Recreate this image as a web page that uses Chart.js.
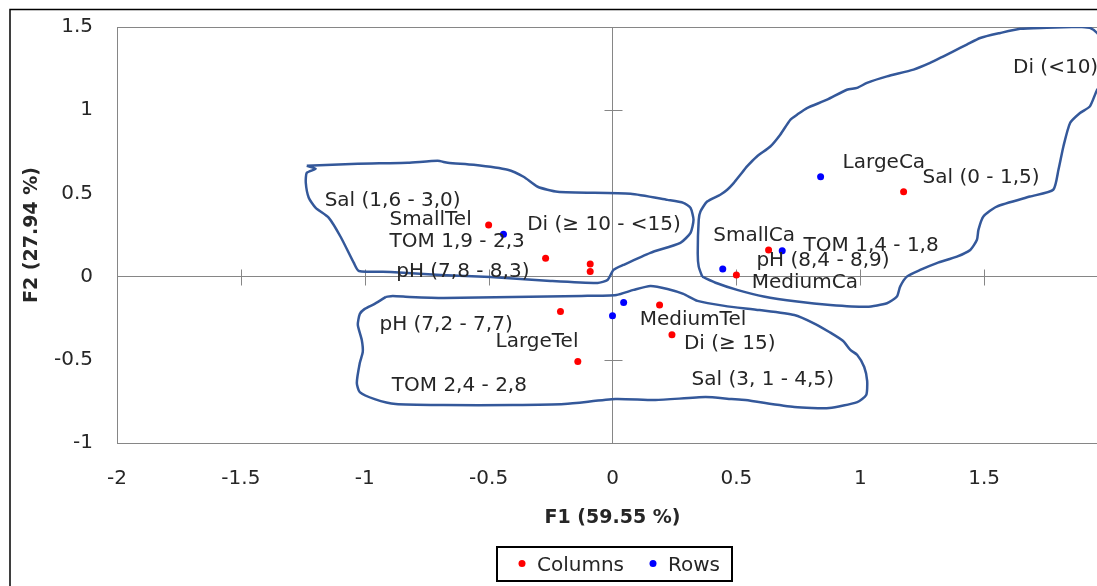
<!DOCTYPE html>
<html><head><meta charset="utf-8">
<script src="https://cdn.jsdelivr.net/npm/chart.js@4.4.1/dist/chart.umd.min.js"></script>
<style>
html,body{margin:0;padding:0;background:#fff;overflow:hidden;}
#wrap{position:relative;width:1120px;height:586px;}
</style></head><body>
<div id="wrap"><canvas id="c" width="1120" height="586"></canvas></div>
<script>
// ---- tick labels ----
const xTicks = [-2, -1.5, -1, -0.5, 0, 0.5, 1, 1.5, 2];
const xTickLabels = ['-2', '-1.5', '-1', '-0.5', '0', '0.5', '1', '1.5', '2'];
const yTicks = [-1, -0.5, 0, 0.5, 1, 1.5];
const yTickLabels = ['-1', '-0.5', '0', '0.5', '1', '1.5'];

// ---- series: Columns (red) ----
const columnLabels = ['Sal (1,6 - 3,0)', 'TOM 1,9 - 2,3', 'pH (7,8 - 8,3)', 'Di (≥ 10 - <15)',
  'pH (7,2 - 7,7)', 'TOM 2,4 - 2,8', 'Di (≥ 15)', 'Sal (3, 1 - 4,5)',
  'Sal (0 - 1,5)', 'TOM 1,4 - 1,8', 'pH (8,4 - 8,9)', 'Di (<10)'];
const columnF1 = [-0.50, -0.27, -0.09, -0.09, -0.21, -0.14, 0.24, 0.19, 1.175, 0.63, 0.50, 1.98];
const columnF2 = [0.31, 0.11, 0.03, 0.075, -0.21, -0.51, -0.35, -0.17, 0.51, 0.16, 0.01, 1.28];

// ---- series: Rows (blue) ----
const rowLabels = ['SmallTel', 'MediumTel', 'LargeTel', 'SmallCa', 'MediumCa', 'LargeCa'];
const rowF1 = [-0.44, 0.045, 0.0, 0.685, 0.445, 0.84];
const rowF2 = [0.255, -0.155, -0.235, 0.155, 0.045, 0.60];

// ---- hand-drawn group outlines (F1, F2) ----
const outlineUpperLeft = [[-1.234,0.666],[-1.198,0.648],[-1.234,0.624],[-1.238,0.564],[-1.226,0.474],[-1.198,0.413],
  [-1.145,0.353],[-1.097,0.238],[-1.044,0.082],[-1.024,0.034],[-0.895,0.028],[-0.694,0.010],[-0.492,-0.002],
  [-0.25,-0.026],[-0.06,-0.038],[-0.02,-0.020],[0.004,0.040],[0.044,0.070],[0.153,0.143],[0.274,0.203],
  [0.315,0.263],[0.327,0.341],[0.315,0.413],[0.286,0.443],[0.222,0.461],[0.073,0.498],[-0.222,0.51],
  [-0.302,0.54],[-0.359,0.6],[-0.423,0.642],[-0.56,0.672],[-0.665,0.684],[-0.706,0.696],[-0.827,0.684],
  [-1.028,0.678],[-1.234,0.666]];
const outlineLower = [[-0.915,-0.122],[-0.96,-0.164],[-1.0,-0.194],[-1.02,-0.225],[-1.028,-0.29],[-1.012,-0.381],
  [-1.008,-0.453],[-1.02,-0.519],[-1.032,-0.639],[-1.02,-0.694],[-0.96,-0.736],[-0.875,-0.766],[-0.681,-0.772],
  [-0.403,-0.772],[-0.194,-0.766],[0.012,-0.736],[0.173,-0.742],[0.375,-0.724],[0.48,-0.736],[0.536,-0.742],
  [0.734,-0.784],[0.875,-0.79],[0.988,-0.754],[1.024,-0.712],[1.028,-0.628],[1.016,-0.543],[0.988,-0.471],
  [0.96,-0.441],[0.931,-0.387],[0.875,-0.333],[0.819,-0.285],[0.734,-0.231],[0.593,-0.201],[0.452,-0.176],
  [0.343,-0.146],[0.286,-0.104],[0.222,-0.074],[0.153,-0.056],[0.085,-0.08],[0.016,-0.11],[-0.125,-0.116],
  [-0.403,-0.122],[-0.681,-0.128],[-0.819,-0.122],[-0.887,-0.116],[-0.915,-0.122]];
const outlineRight = [[0.362,0.0],[0.348,0.06],[0.344,0.141],[0.348,0.341],[0.355,0.391],[0.382,0.451],[0.435,0.492],
  [0.463,0.522],[0.489,0.562],[0.516,0.612],[0.543,0.662],[0.583,0.722],[0.637,0.782],[0.677,0.853],[0.718,0.943],
  [0.745,0.973],[0.785,1.013],[0.866,1.063],[0.946,1.123],[0.987,1.134],[1.027,1.164],[1.108,1.203],[1.215,1.244],
  [1.282,1.284],[1.336,1.324],[1.376,1.354],[1.43,1.394],[1.484,1.434],[1.565,1.464],[1.645,1.489],[1.753,1.495],
  [1.887,1.501],[1.927,1.495],[1.956,1.464],[1.975,1.42],[1.985,1.3],[1.975,1.16],[1.956,1.123],[1.927,1.023],
  [1.887,0.983],[1.847,0.923],[1.82,0.782],[1.8,0.642],[1.779,0.522],[1.685,0.481],[1.551,0.421],[1.497,0.361],
  [1.477,0.281],[1.471,0.221],[1.444,0.160],[1.39,0.12],[1.309,0.081],[1.242,0.04],[1.188,0.0],[1.161,-0.06],
  [1.148,-0.12],[1.108,-0.16],[1.027,-0.181],[0.879,-0.17],[0.745,-0.15],[0.61,-0.12],[0.503,-0.08],[0.422,-0.04],
  [0.362,0.0]];

// ---- label placement (pixel offsets from each point to the label's left / cap-centre) ----
const columnLabelOffsets = [[-164,-26],[-156,-19],[-194,-2],[-63,-41],[-181,11],[-186,22],[12,7],[32,73],
  [19,-16],[35,-6],[20,-16],[-90,2]];
const rowLabelOffsets = [[-114,-16],[16,15],[-117,24],[-69,-17],[29,12],[22,-16]];

const FONT = '"DejaVu Sans", "Open Sans", sans-serif';
const TEXT = '#262626';
const AXIS = '#868686';
const OUTLINE = '#34589A';
const LABEL_SIZE = 20;
Chart.defaults.font.family = FONT;
Chart.defaults.color = TEXT;

const toXY = (xs, ys) => xs.map((v, i) => ({x: v, y: ys[i]}));
const pairs = arr => arr.map(p => ({x: p[0], y: p[1]}));

const decorPlugin = {
  id: 'decor',
  beforeDatasetsDraw(chart) {
    const {ctx, chartArea: a, scales: {x, y}} = chart;
    ctx.save();
    ctx.strokeStyle = AXIS; ctx.lineWidth = 1;
    ctx.strokeRect(Math.round(a.left) + 0.5, Math.round(a.top) + 0.5, Math.round(a.right - a.left), Math.round(a.bottom - a.top));
    const x0 = Math.round(x.getPixelForValue(0)) + 0.5, y0 = Math.round(y.getPixelForValue(0)) + 0.5;
    ctx.beginPath();
    xTicks.forEach(v => { if (v === 0) return; const px = Math.round(x.getPixelForValue(v)) + 0.5; ctx.moveTo(px, y0 - 8); ctx.lineTo(px, y0 + 8); });
    yTicks.forEach(v => { if (v === 0) return; const py = Math.round(y.getPixelForValue(v)) + 0.5; ctx.moveTo(x0 - 9, py); ctx.lineTo(x0 + 9, py); });
    ctx.stroke();
    ctx.restore();
  },
  afterDatasetsDraw(chart) {
    const ctx = chart.ctx;
    ctx.save();
    ctx.font = LABEL_SIZE + 'px ' + FONT;
    ctx.fillStyle = TEXT;
    ctx.textAlign = 'left';
    ctx.textBaseline = 'alphabetic';
    const cap = LABEL_SIZE * 0.729 / 2;
    const draw = (dsIndex, labels, offs) => {
      const meta = chart.getDatasetMeta(dsIndex);
      meta.data.forEach((pt, i) => {
        ctx.fillText(labels[i], pt.x + offs[i][0], pt.y + offs[i][1] + cap);
      });
    };
    draw(0, columnLabels, columnLabelOffsets);
    draw(1, rowLabels, rowLabelOffsets);
    ctx.restore();
  },
  afterDraw(chart) {
    const {ctx, chartArea: a} = chart;
    ctx.save();
    // outer frame
    ctx.strokeStyle = '#000'; ctx.lineWidth = 1.5;
    ctx.beginPath();
    ctx.moveTo(10, 600); ctx.lineTo(10, 9.5); ctx.lineTo(1120, 9.5);
    ctx.stroke();
    // legend
    const cx = (a.left + a.right) / 2 + 2;
    const left = cx - 117.5, top = 547, w = 235, h = 34;
    ctx.lineWidth = 2;
    ctx.strokeRect(left, top, w, h);
    const cy = top + 16.5;
    const items = [[chart.data.datasets[0], 25, 40], [chart.data.datasets[1], 156, 171]];
    ctx.font = LABEL_SIZE + 'px ' + FONT;
    ctx.textBaseline = 'alphabetic';
    ctx.textAlign = 'left';
    items.forEach(([ds, dotX, txtX]) => {
      ctx.fillStyle = ds.backgroundColor;
      ctx.beginPath(); ctx.arc(left + dotX, cy, 3.5, 0, Math.PI * 2); ctx.fill();
      ctx.fillStyle = TEXT;
      ctx.fillText(ds.label, left + txtX, cy + LABEL_SIZE * 0.729 / 2);
    });
    ctx.restore();
  }
};

const zeroOnly = c => (c.tick && c.tick.value === 0) ? AXIS : 'rgba(0,0,0,0)';

new Chart(document.getElementById('c'), {
  type: 'scatter',
  data: {
    datasets: [
      {label: 'Columns', data: toXY(columnF1, columnF2), backgroundColor: '#FF0000', borderWidth: 0, pointRadius: 3.5, pointHoverRadius: 3.5},
      {label: 'Rows', data: toXY(rowF1, rowF2), backgroundColor: '#0000FF', borderWidth: 0, pointRadius: 3.5, pointHoverRadius: 3.5},
      {label: 'g1', data: pairs(outlineUpperLeft), showLine: true, pointRadius: 0, borderColor: OUTLINE, borderWidth: 2.5, tension: 0.2, fill: false},
      {label: 'g2', data: pairs(outlineLower), showLine: true, pointRadius: 0, borderColor: OUTLINE, borderWidth: 2.5, tension: 0.2, fill: false},
      {label: 'g3', data: pairs(outlineRight), showLine: true, pointRadius: 0, borderColor: OUTLINE, borderWidth: 2.5, tension: 0.2, fill: false}
    ]
  },
  options: {
    responsive: false,
    animation: false,
    events: [],
    layout: {padding: {left: 0, right: 12, top: 27, bottom: 0}},
    plugins: {legend: {display: false}, tooltip: {enabled: false}},
    scales: {
      x: {
        type: 'linear', min: -2, max: 2,
        afterBuildTicks: s => { s.ticks = xTicks.map(v => ({value: v})); },
        afterFit: s => { s.height = 143; },
        ticks: {padding: 0, font: {size: LABEL_SIZE}, color: TEXT, callback: v => xTickLabels[xTicks.indexOf(v)] ?? ''},
        grid: {drawTicks: true, tickLength: 24, tickColor: 'rgba(0,0,0,0)', color: zeroOnly, lineWidth: 1},
        border: {display: false},
        title: {display: true, text: 'F1 (59.55 %)', font: {size: 19, weight: 'bold'}, color: TEXT, padding: {top: 0, bottom: 57}}
      },
      y: {
        type: 'linear', min: -1, max: 1.5,
        afterBuildTicks: s => { s.ticks = yTicks.map(v => ({value: v})); },
        afterFit: s => { s.width = 117; },
        ticks: {padding: 0, font: {size: LABEL_SIZE}, color: TEXT, callback: v => yTickLabels[yTicks.indexOf(v)] ?? ''},
        grid: {drawTicks: true, tickLength: 24, tickColor: 'rgba(0,0,0,0)', color: zeroOnly, lineWidth: 1},
        border: {display: false},
        title: {display: true, text: 'F2 (27.94 %)', font: {size: 19, weight: 'bold'}, color: TEXT, padding: {top: 21, bottom: 0}}
      }
    }
  },
  plugins: [decorPlugin]
});
</script>
</body></html>
